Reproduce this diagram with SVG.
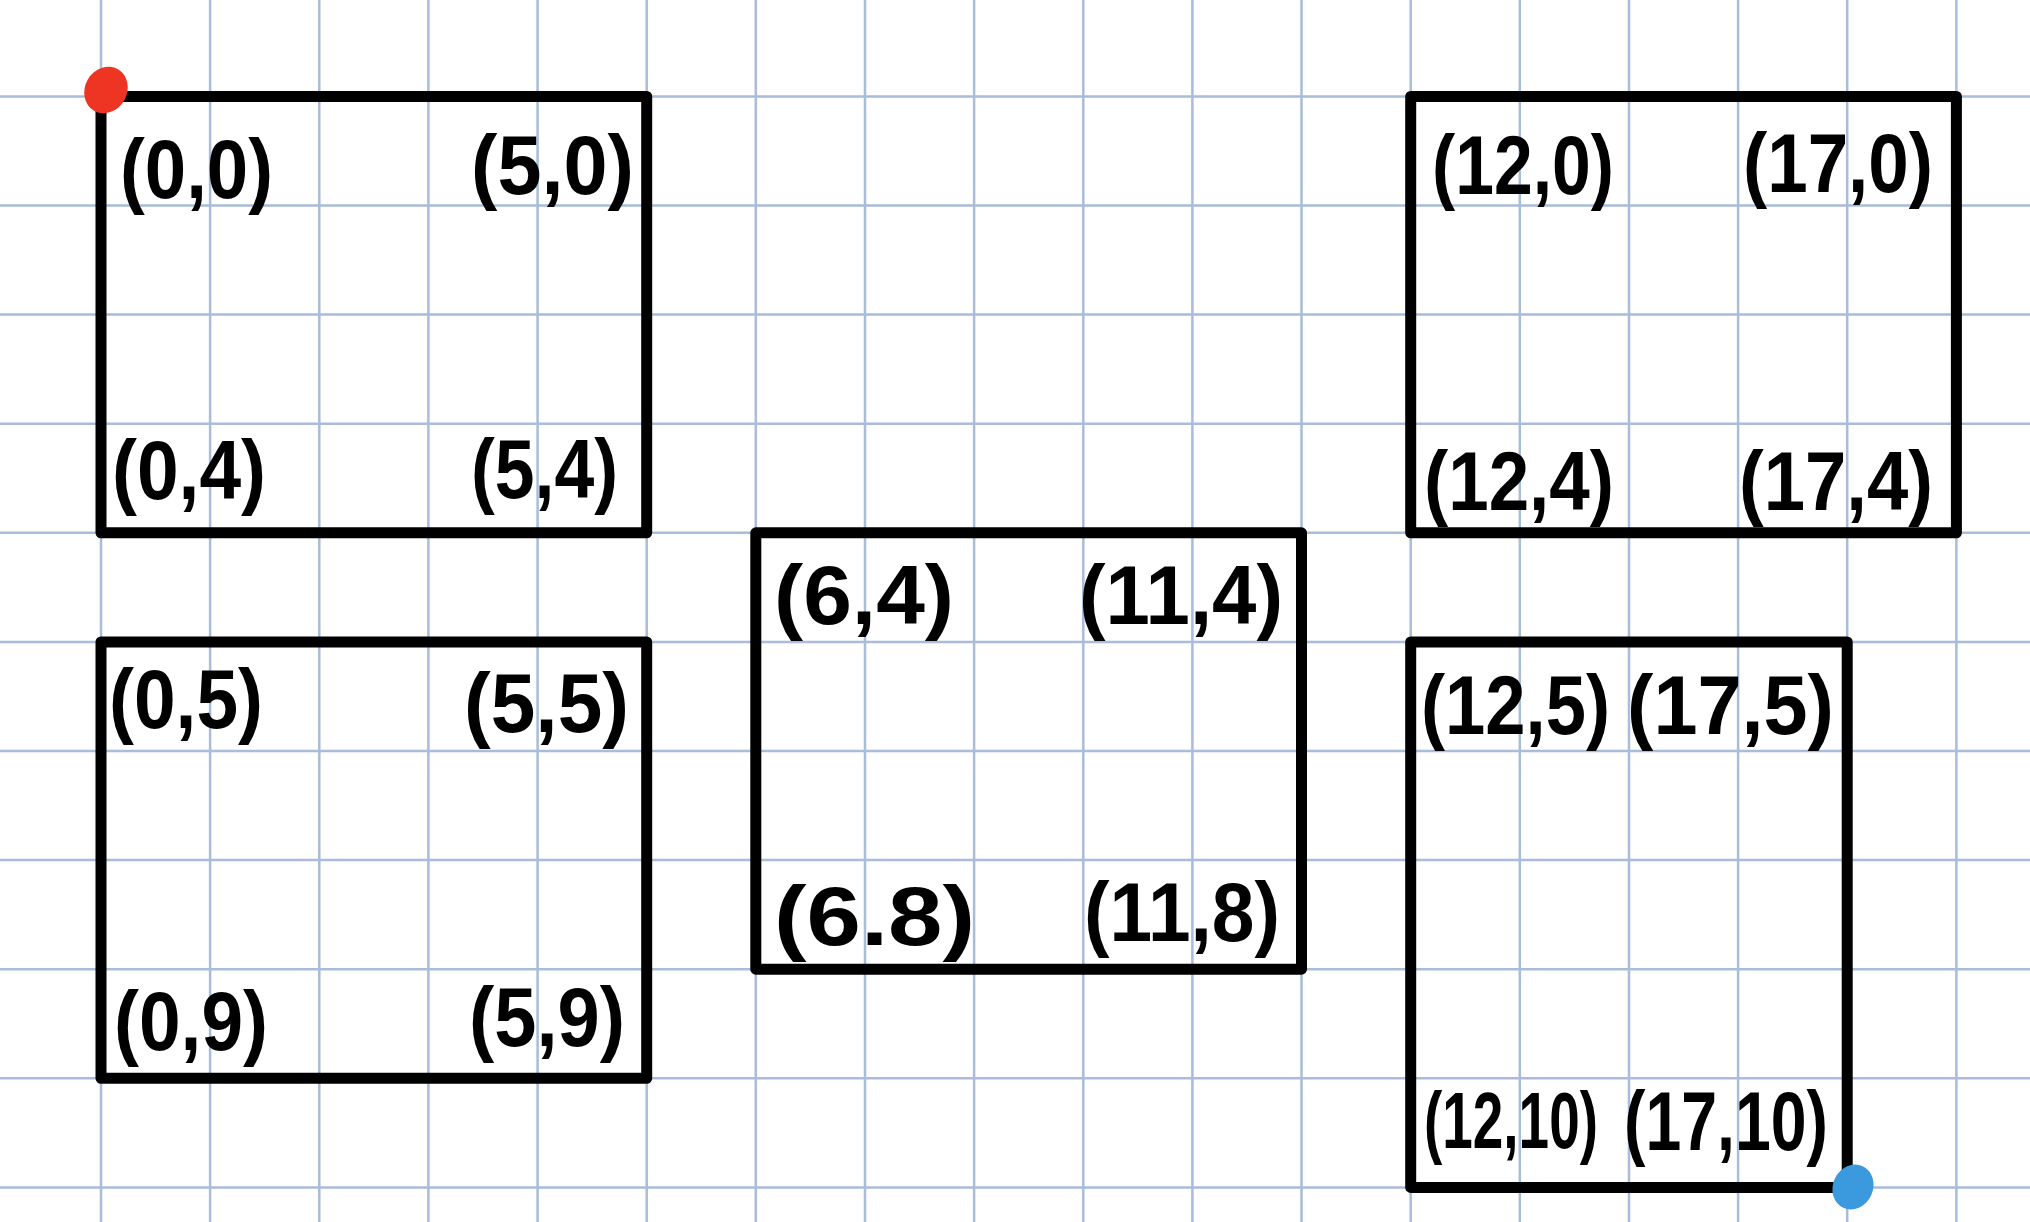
<svg xmlns="http://www.w3.org/2000/svg" width="2030" height="1222" viewBox="0 0 2030 1222">
<style>
.grid{stroke:#a9bcd9;stroke-width:2.5;fill:none}
.box{fill:none;stroke:#000;stroke-width:11;stroke-linejoin:round}
.lbl{font-family:"Liberation Sans",Arial,sans-serif;font-weight:bold;font-size:84px;fill:#000}
</style>
<rect width="2030" height="1222" fill="#fff"/>
<g id="grid" class="grid">
<path d="M101 0V1222M210.1 0V1222M319.3 0V1222M428.4 0V1222M537.6 0V1222M646.7 0V1222M755.8 0V1222M865 0V1222M974.1 0V1222M1083.3 0V1222M1192.4 0V1222M1301.5 0V1222M1410.7 0V1222M1519.8 0V1222M1629 0V1222M1738.1 0V1222M1847.2 0V1222M1956.4 0V1222"/>
<path d="M0 96.4H2030M0 205.5H2030M0 314.6H2030M0 423.7H2030M0 532.8H2030M0 641.9H2030M0 751H2030M0 860.1H2030M0 969.2H2030M0 1078.3H2030M0 1187.4H2030"/>
</g>
<g id="connectors"/>
<g id="box1">
<rect class="box" x="101" y="96.4" width="545.7" height="436.4"/>
<text class="lbl" x="120" y="198" textLength="153" lengthAdjust="spacingAndGlyphs">(0,0)</text>
<text class="lbl" x="471" y="194" textLength="163" lengthAdjust="spacingAndGlyphs">(5,0)</text>
<text class="lbl" x="112" y="499" textLength="154" lengthAdjust="spacingAndGlyphs">(0,4)</text>
<text class="lbl" x="471" y="498" textLength="147" lengthAdjust="spacingAndGlyphs">(5,4)</text>
</g>
<g id="box2">
<rect class="box" x="101" y="641.9" width="545.7" height="436.4"/>
<text class="lbl" x="109" y="728" textLength="154" lengthAdjust="spacingAndGlyphs">(0,5)</text>
<text class="lbl" x="464" y="732" textLength="165" lengthAdjust="spacingAndGlyphs">(5,5)</text>
<text class="lbl" x="114" y="1050" textLength="154" lengthAdjust="spacingAndGlyphs">(0,9)</text>
<text class="lbl" x="469" y="1046" textLength="156" lengthAdjust="spacingAndGlyphs">(5,9)</text>
</g>
<g id="box3">
<rect class="box" x="755.8" y="532.8" width="545.7" height="436.4"/>
<text class="lbl" x="774" y="624" textLength="180" lengthAdjust="spacingAndGlyphs">(6,4)</text>
<text class="lbl" x="1079" y="624" textLength="204" lengthAdjust="spacingAndGlyphs">(11,4)</text>
<text class="lbl" x="774" y="945" textLength="201" lengthAdjust="spacingAndGlyphs">(6.8)</text>
<text class="lbl" x="1084" y="941" textLength="196" lengthAdjust="spacingAndGlyphs">(11,8)</text>
</g>
<g id="box4">
<rect class="box" x="1410.7" y="96.4" width="545.7" height="436.4"/>
<text class="lbl" x="1432" y="194" textLength="182" lengthAdjust="spacingAndGlyphs">(12,0)</text>
<text class="lbl" x="1743" y="192" textLength="190" lengthAdjust="spacingAndGlyphs">(17,0)</text>
<text class="lbl" x="1424" y="510" textLength="190" lengthAdjust="spacingAndGlyphs">(12,4)</text>
<text class="lbl" x="1739" y="510" textLength="194" lengthAdjust="spacingAndGlyphs">(17,4)</text>
</g>
<g id="box5">
<rect class="box" x="1410.7" y="641.9" width="436.5" height="545.5"/>
<text class="lbl" x="1421" y="734" textLength="189" lengthAdjust="spacingAndGlyphs">(12,5)</text>
<text class="lbl" x="1627" y="734" textLength="207" lengthAdjust="spacingAndGlyphs">(17,5)</text>
<text class="lbl" transform="translate(1424 1148) scale(1 1.3)" style="font-size:62px" textLength="174" lengthAdjust="spacingAndGlyphs">(12,10)</text>
<text class="lbl" transform="translate(1624 1150) scale(1 1.3)" style="font-size:64px" textLength="204" lengthAdjust="spacingAndGlyphs">(17,10)</text>
</g>
<g id="markers">
<ellipse cx="106" cy="90" rx="21" ry="24" transform="rotate(30 106 90)" fill="#ee3524"/>
<ellipse cx="1853" cy="1187" rx="20" ry="23" transform="rotate(25 1853 1187)" fill="#3b99dd"/>
</g>
</svg>
